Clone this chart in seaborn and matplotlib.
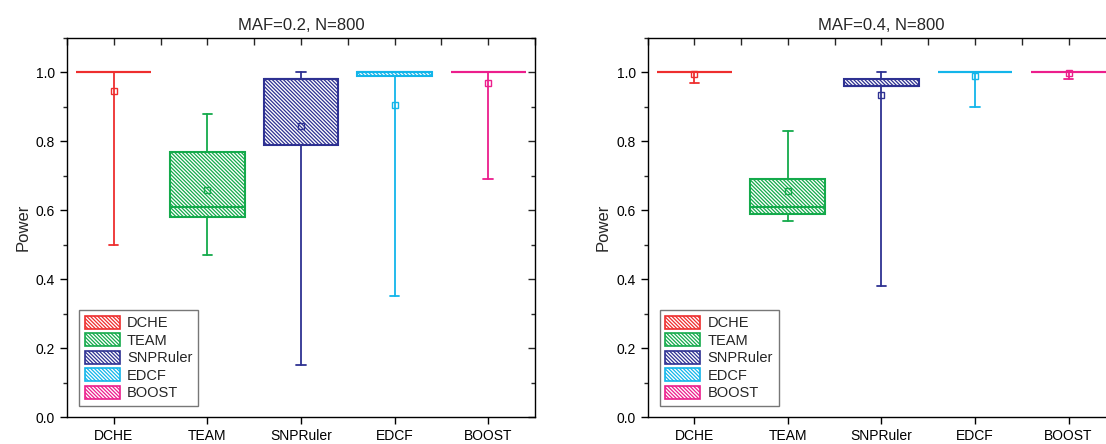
import matplotlib
matplotlib.use('Agg')
import matplotlib.pyplot as plt
import matplotlib.patches as mpatches
from matplotlib.ticker import MultipleLocator
import seaborn as sns

# methods and colours
methods = ['DCHE', 'TEAM', 'SNPRuler', 'EDCF', 'BOOST']
colors = ['#ee2e2e', '#14aa4b', '#2e3192', '#13b5ea', '#ec1e8c']

# MAF=0.2, N=800
low_02 = [0.50, 0.47, 0.15, 0.35, 0.69]
q1_02 = [1.00, 0.58, 0.79, 0.99, 1.00]
med_02 = [1.00, 0.61, 0.98, 1.00, 1.00]
q3_02 = [1.00, 0.77, 0.98, 1.00, 1.00]
high_02 = [1.00, 0.88, 1.00, 1.00, 1.00]
mean_02 = [0.945, 0.66, 0.845, 0.905, 0.97]

# MAF=0.4, N=800
low_04 = [0.97, 0.57, 0.38, 0.90, 0.98]
q1_04 = [1.00, 0.59, 0.96, 1.00, 1.00]
med_04 = [1.00, 0.61, 0.96, 1.00, 1.00]
q3_04 = [1.00, 0.69, 0.98, 1.00, 1.00]
high_04 = [1.00, 0.83, 1.00, 1.00, 1.00]
mean_04 = [0.995, 0.655, 0.935, 0.99, 0.997]

sns.set_style('ticks')
plt.rcParams['font.family'] = ['Liberation Sans', 'DejaVu Sans']
plt.rcParams['hatch.linewidth'] = 0.9

HATCH = '\\' * 9

fig = plt.figure(figsize=(11.06, 4.44), dpi=100)
ax1 = fig.add_axes([0.0606, 0.0608, 0.4230, 0.8536])
ax2 = fig.add_axes([0.5855, 0.0608, 0.4230, 0.8536])


def draw_panel(ax, title, low, q1, med, q3, high, mean):
    for i in range(len(methods)):
        st = dict(whislo=low[i], q1=q1[i], med=med[i], q3=q3[i], whishi=high[i], label=methods[i])
        c = colors[i]
        ax.bxp([st], positions=[i], widths=0.8, capwidths=0.1, showfliers=False,
               patch_artist=True,
               boxprops=dict(facecolor='white', edgecolor=c, linewidth=1.5, hatch=HATCH),
               medianprops=dict(color=c, linewidth=1.5),
               whiskerprops=dict(color=c, linewidth=1.3),
               capprops=dict(color=c, linewidth=1.3))
        ax.plot(i, mean[i], marker='s', ms=4, mfc='none', mec=c, mew=1.0, zorder=5)
    ax.set_xlim(-0.5, 4.5)
    ax.set_ylim(0, 1.1)
    ax.set_xticks(range(len(methods)))
    ax.set_xticklabels(methods)
    ax.yaxis.set_major_locator(MultipleLocator(0.2))
    ax.yaxis.set_minor_locator(MultipleLocator(0.1))
    ax.set_yticklabels([f'{v:.1f}' for v in ax.get_yticks()])
    ax.tick_params(axis='both', which='major', direction='out', length=5, width=1,
                   labelsize=10, colors='black')
    ax.tick_params(axis='y', which='minor', direction='out', length=3, width=1)
    ax.set_ylabel('Power', fontsize=12)
    ax.set_title(title, fontsize=12, pad=6)
    for s in ax.spines.values():
        s.set_visible(True)
        s.set_linewidth(1.0)
        s.set_color('black')
    top = ax.secondary_xaxis('top')
    top.set_xticks(range(len(methods)))
    top.xaxis.set_minor_locator(MultipleLocator(0.5))
    top.tick_params(which='both', direction='in', length=5, width=1, labeltop=False)
    top.spines['top'].set_visible(False)
    right = ax.secondary_yaxis('right')
    right.yaxis.set_major_locator(MultipleLocator(0.2))
    right.yaxis.set_minor_locator(MultipleLocator(0.1))
    right.tick_params(which='major', direction='in', length=5, width=1, labelright=False)
    right.tick_params(which='minor', direction='in', length=3, width=1)
    right.spines['right'].set_visible(False)
    handles = [mpatches.Patch(facecolor='white', edgecolor=colors[i], hatch=HATCH,
                              linewidth=1.2, label=methods[i]) for i in range(len(methods))]
    leg = ax.legend(handles=handles, loc='lower left', bbox_to_anchor=(0.01, 0.01),
                    fontsize=10.5, frameon=True, fancybox=False, edgecolor='#555555',
                    handlelength=2.4, handleheight=1.0, labelspacing=0.2,
                    borderpad=0.4, handletextpad=0.5)
    leg.get_frame().set_linewidth(1.0)


draw_panel(ax1, 'MAF=0.2, N=800', low_02, q1_02, med_02, q3_02, high_02, mean_02)
draw_panel(ax2, 'MAF=0.4, N=800', low_04, q1_04, med_04, q3_04, high_04, mean_04)

fig.savefig('out.png', dpi=100)
